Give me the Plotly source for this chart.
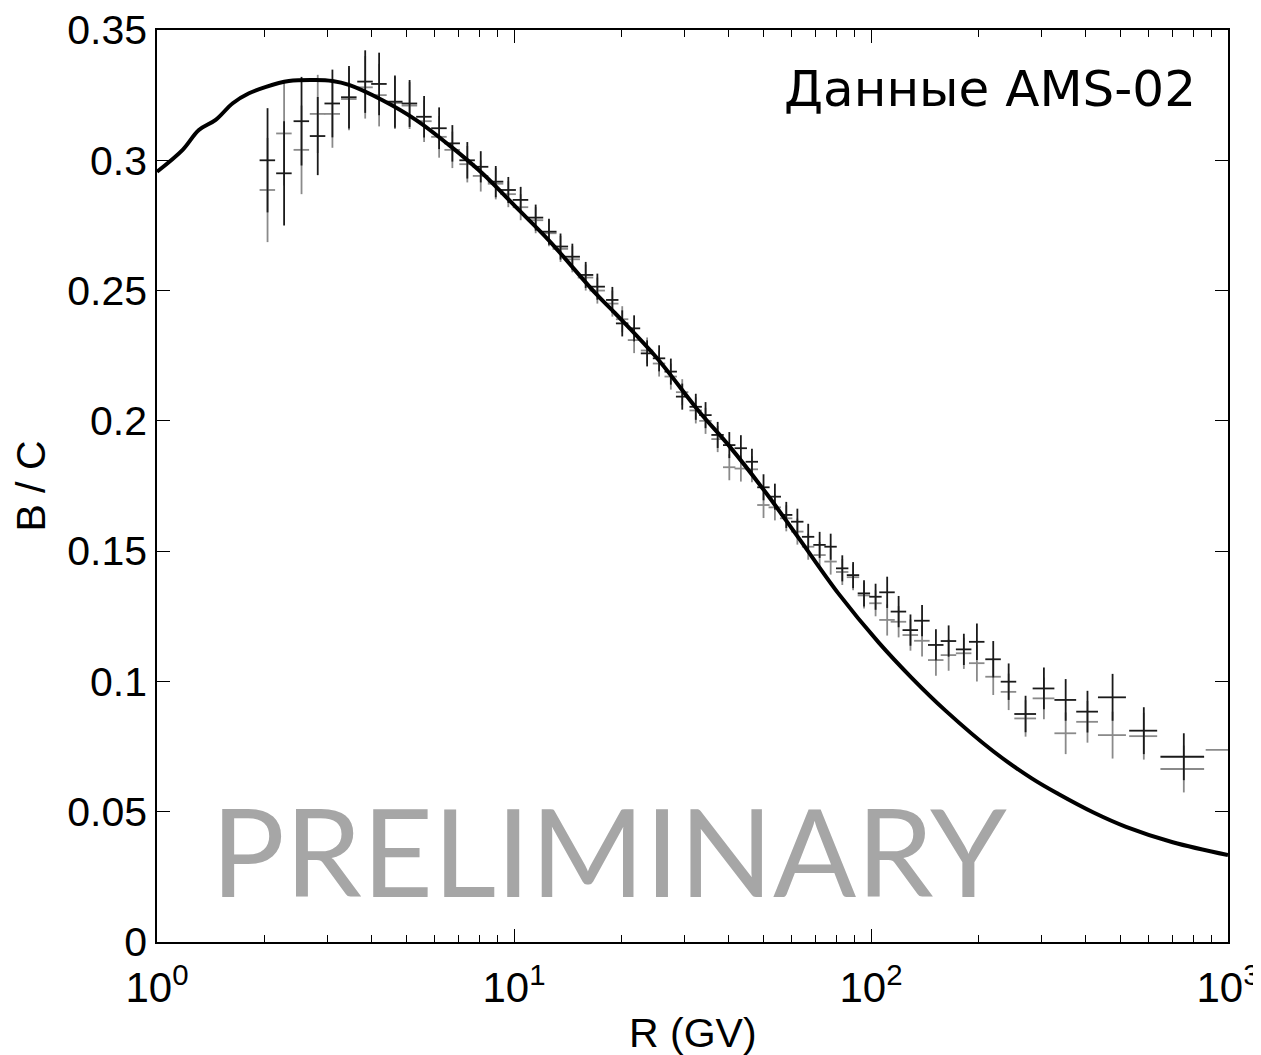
import plotly.graph_objects as go

# ---- data ----
R_data = [2.04, 2.27, 2.54, 2.82, 3.10, 3.45, 3.83, 4.19, 4.64, 5.10, 5.60, 6.17, 6.72, 7.40, 8.07, 8.89,
          9.64, 10.44, 11.5, 12.53, 13.5, 14.57, 15.88, 17.12, 18.86, 20.1, 21.7, 23.6, 25.5, 27.5, 29.6,
          32.3, 34.4, 37.2, 40.1, 43.2, 46.4, 50.0, 53.8, 57.9, 62.2, 66.7, 71.8, 77.1, 83.1, 89.1, 95.6,
          103, 111, 119.5, 129, 139, 152, 165, 182, 198, 220, 243, 271, 305, 351, 404, 475, 581, 752]
bc_black = [0.300, 0.295, 0.315, 0.3093, 0.3218, 0.3242, 0.3302, 0.3293, 0.3225, 0.3218, 0.3167, 0.3123,
            0.3065, 0.300, 0.2975, 0.2918, 0.2886, 0.2848, 0.278, 0.2726, 0.2669, 0.263, 0.256, 0.2515,
            0.2464, 0.2374, 0.2355, 0.2259, 0.224, 0.2189, 0.2093, 0.2054, 0.2022,
            0.1946, 0.1907, 0.1895, 0.1843, 0.1745, 0.1709, 0.1639, 0.1613, 0.1555, 0.1524, 0.1517,
            0.1434, 0.1408, 0.1338, 0.1325,
            0.1342, 0.1268, 0.1197, 0.1233, 0.114, 0.1155, 0.1123, 0.1152, 0.1085, 0.0999, 0.0875,
            0.0973, 0.0929, 0.0884, 0.0939, 0.0811, 0.0711]
bc_gray = [0.2886, 0.3103, 0.304, 0.3178, 0.3178, 0.3235, 0.328, 0.325, 0.322, 0.321, 0.315, 0.309,
           0.304, 0.2985, 0.294, 0.291, 0.287, 0.282, 0.277, 0.272, 0.266, 0.262, 0.255, 0.250,
           0.245, 0.239, 0.231, 0.227, 0.222, 0.217, 0.211, 0.204, 0.200,
           0.193, 0.1822, 0.1817, 0.1814, 0.1677, 0.1668, 0.1626, 0.1575, 0.1517, 0.1485, 0.146,
           0.142, 0.140, 0.133, 0.130,
           0.1236, 0.1229, 0.1178, 0.1156, 0.1082, 0.1101, 0.1108, 0.107, 0.1018, 0.096, 0.0858,
           0.0935, 0.0801, 0.0845, 0.0794, 0.079, 0.0664]
bc_err = [0.020, 0.020, 0.017, 0.015, 0.013, 0.012, 0.012, 0.012, 0.010, 0.009, 0.008, 0.008,
          0.007, 0.007, 0.006, 0.006, 0.005, 0.005, 0.005, 0.005, 0.005, 0.005, 0.005, 0.005,
          0.005, 0.005, 0.005, 0.005, 0.005, 0.005, 0.005, 0.005, 0.005,
          0.005, 0.005, 0.005, 0.005, 0.005, 0.005, 0.005, 0.005, 0.005, 0.005, 0.005,
          0.005, 0.005, 0.005, 0.005,
          0.006, 0.006, 0.006, 0.006, 0.006, 0.006, 0.006, 0.007, 0.007, 0.007, 0.007,
          0.008, 0.008, 0.008, 0.009, 0.009, 0.009]
R_halfwidth_pct = [5] * 24 + [4] * 24 + [5] * 10 + [7] * 4 + [9] * 2 + [14]

R_edge = [1150]
bc_edge = [0.0737]
R_edge_minus = [284]

R_model = [1, 1.18, 1.31, 1.46, 1.63, 1.81, 2.02, 2.34, 2.78, 3.1, 3.45, 4.27, 5.31, 6.57, 8.15, 10.1,
           12.5, 16.9, 19.2, 25, 32.9, 40, 50.9, 62.9, 81.3, 105, 130, 162, 220, 282, 335, 420, 518,
           700, 1000]
bc_model = [0.2956, 0.304, 0.3116, 0.3155, 0.3219, 0.3257, 0.3282, 0.3304, 0.3308, 0.3304, 0.3289,
            0.3231, 0.3155, 0.3059, 0.295, 0.2822, 0.2694, 0.249, 0.2413, 0.2245, 0.2038, 0.1905,
            0.1722, 0.1548, 0.1335, 0.1150, 0.1014, 0.0887, 0.0732, 0.0628, 0.0568, 0.0497, 0.0442,
            0.0383, 0.0334]

y_ticks = [0, 0.05, 0.1, 0.15, 0.2, 0.25, 0.3, 0.35]
y_ticktext = ["0", "0.05", "0.1", "0.15", "0.2", "0.25", "0.3", "0.35"]
x_ticks = [1, 10, 100, 1000]
x_ticktext = ["10<sup>0</sup>", "10<sup>1</sup>", "10<sup>2</sup>", "10<sup>3</sup>"]

AXFONT = "Liberation Sans, Arial, sans-serif"

fig = go.Figure()

for ys, col in [(bc_gray, "#8a8a8a"), (bc_black, "#1a1a1a")]:
    fig.add_trace(go.Scatter(
        x=R_data, y=ys, mode="markers", marker=dict(size=0.1, color=col, opacity=0),
        error_y=dict(type="data", array=bc_err, color=col, thickness=1.8, width=0),
        error_x=dict(type="data",
                     array=[r * p / 100 for r, p in zip(R_data, R_halfwidth_pct)],
                     color=col, thickness=1.8, width=0),
        showlegend=False, hoverinfo="skip"))

fig.add_trace(go.Scatter(
    x=R_edge, y=bc_edge, mode="markers", marker=dict(size=0.1, color="#8a8a8a", opacity=0),
    error_x=dict(type="data", symmetric=False, array=[0], arrayminus=R_edge_minus,
                 color="#8a8a8a", thickness=1.8, width=0),
    showlegend=False, hoverinfo="skip"))

fig.add_trace(go.Scatter(
    x=R_model, y=bc_model, mode="lines", line=dict(color="black", width=4, shape="spline", smoothing=1.0),
    showlegend=False, hoverinfo="skip"))

fig.add_annotation(text="Данные AMS-02", xref="paper", yref="paper", x=0.972, y=0.935,
                   xanchor="right", yanchor="middle", showarrow=False,
                   font=dict(family="DejaVu Sans, sans-serif", size=50, color="black"))
fig.add_annotation(text="PRELIMINARY", xref="paper", yref="paper", x=0.422, y=0.101,
                   xanchor="center", yanchor="middle", showarrow=False,
                   font=dict(family="Lato, Open Sans, sans-serif", size=123, color="#a6a6a6"))
# axis titles
fig.add_annotation(text="R (GV)", xref="paper", yref="paper", x=0.5, y=-0.072,
                   xanchor="center", yanchor="top", showarrow=False,
                   font=dict(family=AXFONT, size=41, color="black"))
fig.add_annotation(text="B / C", xref="paper", yref="paper", x=-0.118, y=0.5,
                   xanchor="center", yanchor="middle", showarrow=False, textangle=-90,
                   font=dict(family=AXFONT, size=41, color="black"))

fig.update_layout(
    width=1253, height=1047,
    margin=dict(l=149, r=33, t=22, b=113),
    plot_bgcolor="white", paper_bgcolor="white",
    font=dict(family=AXFONT, color="black", size=41),
)
fig.update_xaxes(
    type="log", range=[0, 3], tickvals=x_ticks, ticktext=x_ticktext,
    ticks="inside", ticklen=13, tickwidth=1.2, tickcolor="black",
    minor=dict(ticks="inside", ticklen=7, tickwidth=1.2, tickcolor="black", dtick="D1"),
    showline=True, linecolor="black", linewidth=1.5, mirror="ticks",
    showgrid=False, zeroline=False, automargin=False, ticklabeloverflow="allow",
    tickfont=dict(family=AXFONT, size=42), ticklabelstandoff=8,
)
fig.update_yaxes(
    range=[0, 0.35], tickvals=y_ticks, ticktext=y_ticktext,
    ticks="inside", ticklen=13, tickwidth=1.2, tickcolor="black",
    showline=True, linecolor="black", linewidth=1.5, mirror="ticks",
    showgrid=False, zeroline=False, automargin=False, ticklabeloverflow="allow",
    tickfont=dict(family=AXFONT, size=41), ticklabelstandoff=0,
)

fig.write_html("out.html")
